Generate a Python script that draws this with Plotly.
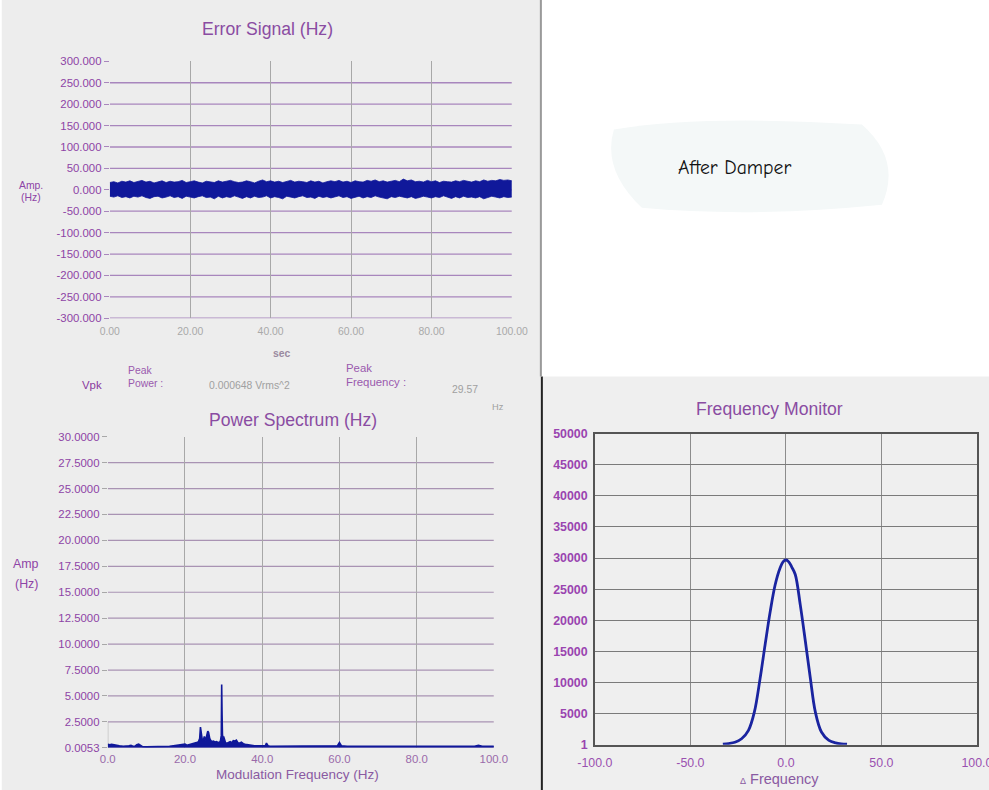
import plotly.graph_objects as go

# figure size in page pixels; the page has an 8px body margin
W, H = 1005, 798
# measured mapping from page pixels to the final picture
SX, AX = 0.966, 8.5
SY, AY = 0.979, 0.0

# ---------------- data ----------------
# Error Signal: upper / lower envelope of the noise band, one value per second
err_time = [0, 1, 2, 3, 4, 5, 6, 7, 8, 9, 10, 11, 12, 13, 14, 15, 16, 17, 18, 19,
            20, 21, 22, 23, 24, 25, 26, 27, 28, 29, 30, 31, 32, 33, 34, 35, 36, 37, 38, 39,
            40, 41, 42, 43, 44, 45, 46, 47, 48, 49, 50, 51, 52, 53, 54, 55, 56, 57, 58, 59,
            60, 61, 62, 63, 64, 65, 66, 67, 68, 69, 70, 71, 72, 73, 74, 75, 76, 77, 78, 79,
            80, 81, 82, 83, 84, 85, 86, 87, 88, 89, 90, 91, 92, 93, 94, 95, 96, 97, 98, 99, 100]
err_upper = [17, 19, 16, 20, 18, 21, 17, 19, 22, 18, 20, 16, 19, 21, 17, 20, 18, 19, 22, 17,
             19, 21, 18, 16, 20, 19, 17, 21, 18, 20, 22, 19, 17, 18, 21, 19, 16, 20, 23, 19,
             21, 18, 20, 17, 19, 22, 18, 20, 19, 17, 21, 18, 20, 16, 19, 21, 19, 22, 18, 20,
             17, 21, 19, 18, 22, 20, 23, 19, 21, 18, 20, 22, 19, 25, 21, 23, 19, 20, 18, 22,
             19, 21, 17, 20, 19, 18, 21, 19, 22, 20, 18, 21, 19, 23, 20, 22, 21, 24, 22, 23, 21]
err_lower = [-15, -17, -14, -18, -16, -19, -15, -17, -14, -18, -20, -16, -15, -19, -17, -14, -18, -16, -20, -15,
             -17, -19, -16, -14, -18, -17, -21, -15, -19, -16, -18, -14, -17, -20, -16, -19, -15, -18, -17, -14,
             -19, -16, -18, -21, -15, -17, -19, -16, -14, -18, -17, -20, -15, -18, -16, -19, -17, -14, -18, -16,
             -20, -17, -15, -19, -16, -18, -14, -17, -19, -21, -16, -18, -15, -17, -19, -16, -20, -18, -15, -17,
             -19, -16, -18, -14, -17, -20, -16, -19, -15, -18, -17, -19, -16, -21, -18, -15, -17, -19, -16, -18, -17]

# Power Spectrum
ps_freq = [0, 0.5, 1, 1.5, 2, 2.5, 3, 4, 5, 5.5,
           6, 6.5, 7, 7.5, 8, 8.5, 9, 10, 11, 12,
           13, 14, 15, 16, 17, 18, 19, 19.5, 20, 20.5,
           21, 22, 22.5, 23, 23.5, 23.8, 24.0, 24.2, 24.5, 24.8,
           25.0, 25.3, 25.6, 25.9, 26.1, 26.4, 26.7, 27.0, 27.4, 27.8,
           28.2, 28.6, 29.0, 29.2, 29.4, 29.5, 29.6, 29.7, 29.8, 30.0,
           30.2, 30.5, 30.9, 31.3, 31.7, 32.1, 32.5, 32.9, 33.3, 33.7,
           34.1, 34.6, 35.1, 35.6, 36.2, 37, 38, 39, 40, 40.8,
           41.1, 41.5, 42, 44, 46, 48, 50, 52, 54, 56,
           58, 59.5, 60, 60.5, 62, 65, 68, 71, 74, 77,
           80, 83, 86, 89, 90, 92, 95, 96, 97, 100]
ps_amp = [0.35, 0.30, 0.35, 0.30, 0.25, 0.25, 0.20, 0.15, 0.15, 0.20,
          0.25, 0.15, 0.15, 0.30, 0.35, 0.20, 0.12, 0.10, 0.10, 0.10,
          0.10, 0.10, 0.12, 0.15, 0.20, 0.25, 0.25, 0.30, 0.35, 0.25,
          0.30, 0.35, 0.40, 0.50, 0.60, 0.90, 2.00, 1.20, 0.70, 0.80,
          1.10, 0.70, 1.20, 1.60, 1.50, 0.90, 0.70, 0.60, 0.65, 0.55,
          0.60, 0.50, 0.55, 0.70, 1.20, 6.10, 3.20, 1.30, 1.00, 1.10,
          0.80, 0.50, 0.45, 0.50, 0.60, 0.50, 0.70, 0.65, 0.75, 0.50,
          0.45, 0.55, 0.40, 0.35, 0.30, 0.25, 0.20, 0.20, 0.22, 0.20,
          0.45, 0.20, 0.15, 0.15, 0.15, 0.15, 0.15, 0.15, 0.15, 0.15,
          0.15, 0.20, 0.50, 0.20, 0.15, 0.15, 0.15, 0.15, 0.15, 0.15,
          0.20, 0.15, 0.15, 0.15, 0.20, 0.15, 0.15, 0.25, 0.15, 0.15]

# Frequency Monitor
fm_dfreq = [-33, -30, -26.7, -23.2, -19.6, -16.5, -13.5, -10.9, -8.2, -5.6, -3, -1.5, 0,
            1.5, 3, 4.9, 7.5, 10.2, 12.8, 15.4, 18.6, 22.5, 26, 29, 32]
fm_count = [100, 200, 400, 970, 2320, 5280, 10670, 16050, 21440, 25750, 28450, 29400, 29700,
            29400, 28600, 27370, 22520, 16600, 10670, 5280, 2050, 700, 300, 150, 100]

err_xticks = [0, 20, 40, 60, 80, 100]
err_yticks = [-300, -250, -200, -150, -100, -50, 0, 50, 100, 150, 200, 250, 300]
ps_xticks = [0, 20, 40, 60, 80, 100]
ps_yticks = [0.0053, 2.5, 5, 7.5, 10, 12.5, 15, 17.5, 20, 22.5, 25, 27.5, 30]
fm_xticks = [-100, -50, 0, 50, 100]
fm_yticks = [1, 5000, 10000, 15000, 20000, 25000, 30000, 35000, 40000, 45000, 50000]

# ---------------- helpers: picture pixel -> paper fraction ----------------
def px(x):
    page = (x - AX) / SX
    return (page - 8) / W

def py(y):
    page = (y - AY) / SY
    return 1 - (page - 8) / H

def fs(size):
    return round(size / SX, 1)

FONT = "Arial, Liberation Sans, sans-serif"
PURPLE = "#8e44a6"
PURPLE_GRID = "#a886bd"
PS_GRID = "#a993b3"
GRAY_GRID = "#a8a8a8"
NAVY = "#10189a"
PALE = "#a9a9a9"

fig = go.Figure()

# Error signal band
fig.add_trace(go.Scatter(x=err_time, y=err_lower, mode="lines",
                         line=dict(color=NAVY, width=0.8), xaxis="x", yaxis="y",
                         showlegend=False, hoverinfo="skip"))
fig.add_trace(go.Scatter(x=err_time, y=err_upper, mode="lines", fill="tonexty",
                         fillcolor=NAVY, line=dict(color=NAVY, width=0.8),
                         xaxis="x", yaxis="y", showlegend=False))

# Power spectrum
fig.add_trace(go.Scatter(x=ps_freq, y=ps_amp, mode="lines", fill="tozeroy",
                         fillcolor=NAVY, line=dict(color=NAVY, width=1.6),
                         xaxis="x2", yaxis="y2", showlegend=False))

# Frequency monitor
fig.add_trace(go.Scatter(x=fm_dfreq, y=fm_count, mode="lines", line_shape="spline",
                         line=dict(color="#1a24a0", width=2.8),
                         xaxis="x3", yaxis="y3", showlegend=False))

tickfont = dict(family=FONT, size=fs(11), color=PURPLE)

fig.update_layout(
    width=W, height=H, autosize=False, margin=dict(l=0, r=0, t=0, b=0, pad=0),
    paper_bgcolor="white", plot_bgcolor="rgba(0,0,0,0)",
    font=dict(family=FONT),
    xaxis=dict(domain=[px(108), px(510)], anchor="y", range=[0, 100],
               tickvals=err_xticks, ticktext=[f"{v:.2f}" for v in err_xticks],
               showgrid=True, gridcolor=GRAY_GRID, gridwidth=1, zeroline=False,
               showline=False, ticks="", ticklabelstandoff=5,
               tickfont=dict(family=FONT, size=fs(10), color=PALE)),
    yaxis=dict(domain=[py(318), py(62)], anchor="x", range=[-300, 300],
               tickvals=err_yticks, ticktext=[f"{v:.3f}" for v in err_yticks],
               showgrid=False, zeroline=False,
               showline=False, ticks="outside", ticklen=5, tickcolor=PURPLE_GRID,
               tickfont=tickfont),
    xaxis2=dict(domain=[px(106), px(492)], anchor="y2", range=[0, 100],
                tickvals=ps_xticks, ticktext=[f"{v:.1f}" for v in ps_xticks],
                showgrid=True, gridcolor=GRAY_GRID, gridwidth=1, zeroline=False,
                showline=False, ticks="", ticklabelstandoff=3,
                tickfont=dict(family=FONT, size=fs(11), color="#9a6aaa")),
    yaxis2=dict(domain=[py(746), py(436)], anchor="x2", range=[0.0053, 30],
                tickvals=ps_yticks, ticktext=[f"{v:.4f}" for v in ps_yticks],
                showgrid=False, zeroline=False,
                showline=False, ticks="outside", ticklen=5, tickcolor=GRAY_GRID,
                tickfont=tickfont),
    xaxis3=dict(domain=[px(593), px(975)], anchor="y3", range=[-100, 100],
                tickvals=fm_xticks, ticktext=[f"{v:.1f}" for v in fm_xticks],
                showgrid=True, gridcolor="#8c8c8c", gridwidth=1, zeroline=False,
                showline=True, linecolor="#555555", linewidth=1.5, mirror=True, ticks="",
                ticklabelstandoff=6,
                tickfont=dict(family=FONT, size=fs(12), color="#9a50b0")),
    yaxis3=dict(domain=[py(743), py(433)], anchor="x3", range=[1, 50000],
                tickvals=fm_yticks, ticktext=[f"<b>{v}</b>" for v in fm_yticks],
                showgrid=True, gridcolor="#7a7a7a", gridwidth=1.2, zeroline=False,
                showline=True, linecolor="#555555", linewidth=1.5, mirror=True, ticks="",
                ticklabelstandoff=3,
                tickfont=dict(family=FONT, size=fs(12), color="#9a44b0")),
)

shapes = [
    # scanned panels
    dict(type="rect", xref="paper", yref="paper", x0=px(0), x1=px(540), y0=py(800), y1=py(-10),
         fillcolor="#ededed", line_width=0, layer="below"),
    dict(type="rect", xref="paper", yref="paper", x0=px(540), x1=px(1000), y0=py(800), y1=py(376),
         fillcolor="#efefef", line_width=0, layer="below"),
    dict(type="path", xref="paper", yref="paper",
         path=f"M {px(612)},{py(130)} Q {px(700)},{py(115)} {px(860)},{py(125)} "
              f"Q {px(900)},{py(160)} {px(880)},{py(205)} Q {px(750)},{py(218)} {px(640)},{py(208)} "
              f"Q {px(600)},{py(170)} {px(612)},{py(130)} Z",
         fillcolor="#f4f8f8", line_width=0, layer="below"),
    dict(type="line", xref="paper", yref="paper", x0=px(540), x1=px(540), y0=py(376), y1=py(800),
         line=dict(color="#222222", width=2)),
    dict(type="line", xref="paper", yref="paper", x0=px(539), x1=px(539), y0=py(-10), y1=py(376),
         line=dict(color="#9a9a9a", width=2)),
]
# horizontal grid lines (the top tick of the two left charts has no grid line)
for v in err_yticks[:-1]:
    shapes.append(dict(type="line", xref="x", yref="y", x0=err_xticks[0], x1=err_xticks[-1],
                       y0=v, y1=v, line=dict(color=PURPLE_GRID, width=1.3), layer="below"))
for v in ps_yticks[:-1]:
    shapes.append(dict(type="line", xref="x2", yref="y2", x0=ps_xticks[0], x1=ps_xticks[-1],
                       y0=v, y1=v, line=dict(color=PS_GRID, width=1.2), layer="below"))
# small left frame piece of the spectrum plot
shapes.append(dict(type="line", xref="x2", yref="y2", x0=ps_xticks[0], x1=ps_xticks[0],
                   y0=ps_yticks[0], y1=ps_yticks[1], line=dict(color=GRAY_GRID, width=1),
                   layer="below"))
fig.update_layout(shapes=shapes)

def ann(x, y, text, size=11, color=PURPLE, xanchor="center", family=FONT):
    fig.add_annotation(xref="paper", yref="paper", x=px(x), y=py(y), text=text,
                       showarrow=False, xanchor=xanchor, yanchor="middle",
                       font=dict(family=family, size=fs(size), color=color))

# titles
ann(266, 30, "Error Signal (Hz)", size=17, color="#8a4ca2")
ann(291, 419, "Power Spectrum (Hz)", size=17, color="#8a4ca2")
ann(768, 408, "Frequency Monitor", size=17, color="#8a4ca2")

# axis labels
ann(29, 186, "Amp.", size=10)
ann(29, 198, "(Hz)", size=10)
ann(280, 353, "<b>sec</b>", size=10, color="#9a8aa0")
ann(24, 563, "Amp", size=12)
ann(25, 583, "(Hz)", size=12)
ann(296, 773, "Modulation Frequency (Hz)", size=13, color="#8a5aa2")
ann(778, 777, "<span style='font-size:9px'>Δ</span> Frequency", size=14, color="#8a5aa2")

# readouts
ann(90, 385, "Vpk", size=11, color="#8a3a9e")
ann(124, 370, "Peak", size=10, xanchor="left", color="#9a5aae")
ann(124, 383, "Power :", size=10, xanchor="left", color="#9a5aae")
ann(205, 385, "0.000648 Vrms^2", size=10, xanchor="left", color="#a0a0a0")
ann(342, 368, "Peak", size=11, xanchor="left", color="#9a5aae")
ann(342, 382, "Frequency :", size=11, xanchor="left", color="#9a5aae")
ann(448, 389, "29.57", size=10, xanchor="left", color="#a0a0a0")
ann(488, 406, "Hz", size=9, xanchor="left", color="#a0a0a0")

# note
ann(733, 168, "After Damper", size=19, color="#111111",
    family="Comic Sans MS, Comic Neue, Lato, DejaVu Sans, sans-serif")

fig.write_html("out.html")
